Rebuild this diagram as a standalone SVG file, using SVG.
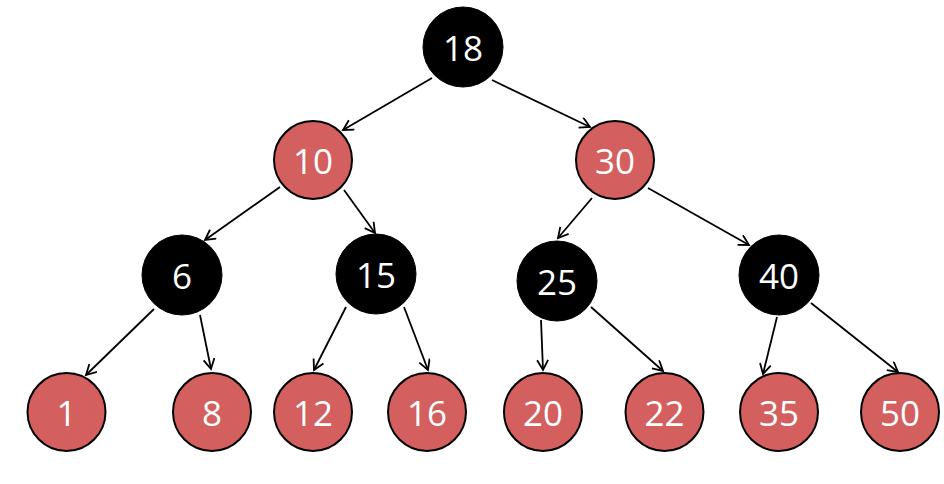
<svg xmlns="http://www.w3.org/2000/svg" width="944" height="484" viewBox="0 0 944 484">
<defs>
<style>
.red circle{fill:#d35f5f;stroke:#000;stroke-width:2}
.blk circle{fill:#000;stroke:#000;stroke-width:1}
text{font-family:"Open Sans","Noto Sans",sans-serif;font-size:35px;fill:#fff;text-anchor:middle;dominant-baseline:central}
#edges line{stroke:#000;stroke-width:1.8;marker-end:url(#arr)}
</style>
<marker id="arr" markerUnits="userSpaceOnUse" markerWidth="14" markerHeight="14" refX="11" refY="6" orient="auto">
<path d="M1,0.5 L11,6 L1,11.5" fill="none" stroke="#000" stroke-width="1.8"/>
</marker>
</defs>
<rect width="944" height="484" fill="#fff"/>
<g id="edges">
<line x1="432" y1="78" x2="343" y2="130"/>
<line x1="492" y1="80" x2="590" y2="127"/>
<line x1="280" y1="187" x2="205" y2="240"/>
<line x1="344" y1="190" x2="375" y2="233"/>
<line x1="592" y1="198" x2="558" y2="238"/>
<line x1="648" y1="188" x2="749" y2="245"/>
<line x1="154" y1="309" x2="86" y2="375"/>
<line x1="200" y1="315" x2="211" y2="369"/>
<line x1="346" y1="307" x2="314" y2="370"/>
<line x1="404" y1="307" x2="428" y2="370"/>
<line x1="541" y1="320" x2="543" y2="370"/>
<line x1="591" y1="307" x2="663" y2="371"/>
<line x1="777" y1="317" x2="763" y2="374"/>
<line x1="811" y1="303" x2="898" y2="372"/>
</g>
<g id="n18" class="blk"><circle cx="463" cy="47" r="40"/><text x="463" y="47">18</text></g>
<g id="n10" class="red"><circle cx="313" cy="160" r="39"/><text x="313" y="160">10</text></g>
<g id="n30" class="red"><circle cx="615" cy="160" r="39"/><text x="615" y="160">30</text></g>
<g id="n6" class="blk"><circle cx="182" cy="275" r="40"/><text x="182" y="275">6</text></g>
<g id="n15" class="blk"><circle cx="376" cy="274" r="40"/><text x="376" y="274">15</text></g>
<g id="n25" class="blk"><circle cx="557" cy="281" r="40"/><text x="557" y="281">25</text></g>
<g id="n40" class="blk"><circle cx="779" cy="275" r="40"/><text x="779" y="275">40</text></g>
<g id="n1" class="red"><circle cx="66.5" cy="412" r="39"/><text x="66.5" y="412">1</text></g>
<g id="n8" class="red"><circle cx="212" cy="412" r="39"/><text x="212" y="412">8</text></g>
<g id="n12" class="red"><circle cx="313" cy="412" r="39"/><text x="313" y="412">12</text></g>
<g id="n16" class="red"><circle cx="427" cy="412" r="39"/><text x="427" y="412">16</text></g>
<g id="n20" class="red"><circle cx="543" cy="412" r="39"/><text x="543" y="412">20</text></g>
<g id="n22" class="red"><circle cx="664.5" cy="412" r="39"/><text x="664.5" y="412">22</text></g>
<g id="n35" class="red"><circle cx="779" cy="412" r="39"/><text x="779" y="412">35</text></g>
<g id="n50" class="red"><circle cx="900" cy="412" r="39"/><text x="900" y="412">50</text></g>
</svg>
